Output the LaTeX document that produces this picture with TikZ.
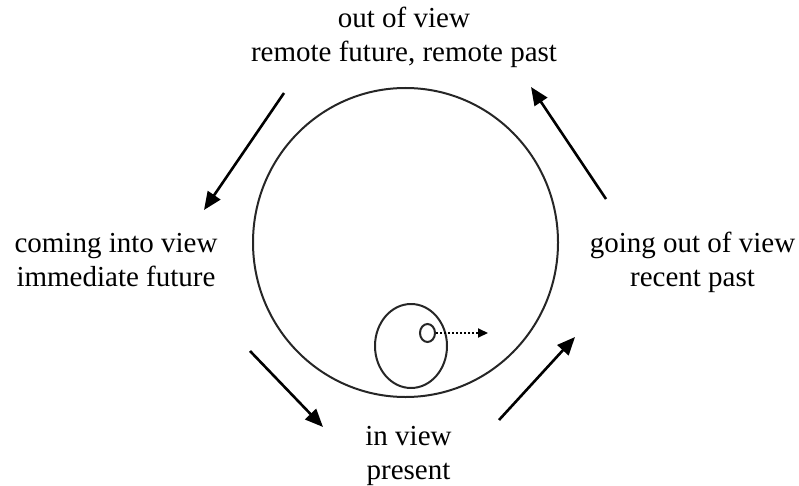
\documentclass[tikz,border=0pt]{standalone}
\usepackage{fontspec}
\setmainfont{Liberation Serif}
\usetikzlibrary{arrows.meta,shapes.geometric}
\tikzset{
  lbl/.style={inner sep=0pt, anchor=base, font=\fontsize{29}{34}\selectfont},
  ring/.style={draw=black!85, line width=2pt, ellipse, inner sep=0pt},
  flow/.style={line width=2.6pt, -{Triangle[length=18pt,width=15pt]}},
}
\begin{document}
\begin{tikzpicture}[x=1pt,y=-1pt]
\useasboundingbox (0,0) rectangle (799,486);
% labels
\node[lbl] (top) at (404,28) {\begin{tabular}[t]{@{}c@{}}out of view\\remote future, remote past\end{tabular}};
\node[lbl] (left) at (116,252) {\begin{tabular}[t]{@{}c@{}}coming into view\\immediate future\end{tabular}};
\node[lbl] (right) at (692.5,252) {\begin{tabular}[t]{@{}c@{}}going out of view\\recent past\end{tabular}};
\node[lbl] (bottom) at (408.5,445) {\begin{tabular}[t]{@{}c@{}}in view\\present\end{tabular}};
% circles
\node[ring, minimum width=305pt, minimum height=309pt] (big) at (405.5,242.5) {};
\node[ring, minimum width=72pt, minimum height=84pt] (mid) at (411,346) {};
\node[ring, minimum width=15pt, minimum height=18pt] (dot) at (427.5,333) {};
\coordinate (dotend) at (488,333);
\draw[line width=2pt, dotted, -{Triangle[length=10pt,width=9pt]}] (dot.east) -- (dotend);
% arrows
\coordinate (a1s) at (284,93);  \coordinate (a1e) at (204,210);
\coordinate (a2s) at (250,351); \coordinate (a2e) at (323,427);
\coordinate (a3s) at (499,420); \coordinate (a3e) at (575,337);
\coordinate (a4s) at (606,199); \coordinate (a4e) at (531,87);
\draw[flow] (a1s) -- (a1e);
\draw[flow] (a2s) -- (a2e);
\draw[flow] (a3s) -- (a3e);
\draw[flow] (a4s) -- (a4e);
\end{tikzpicture}
\end{document}
